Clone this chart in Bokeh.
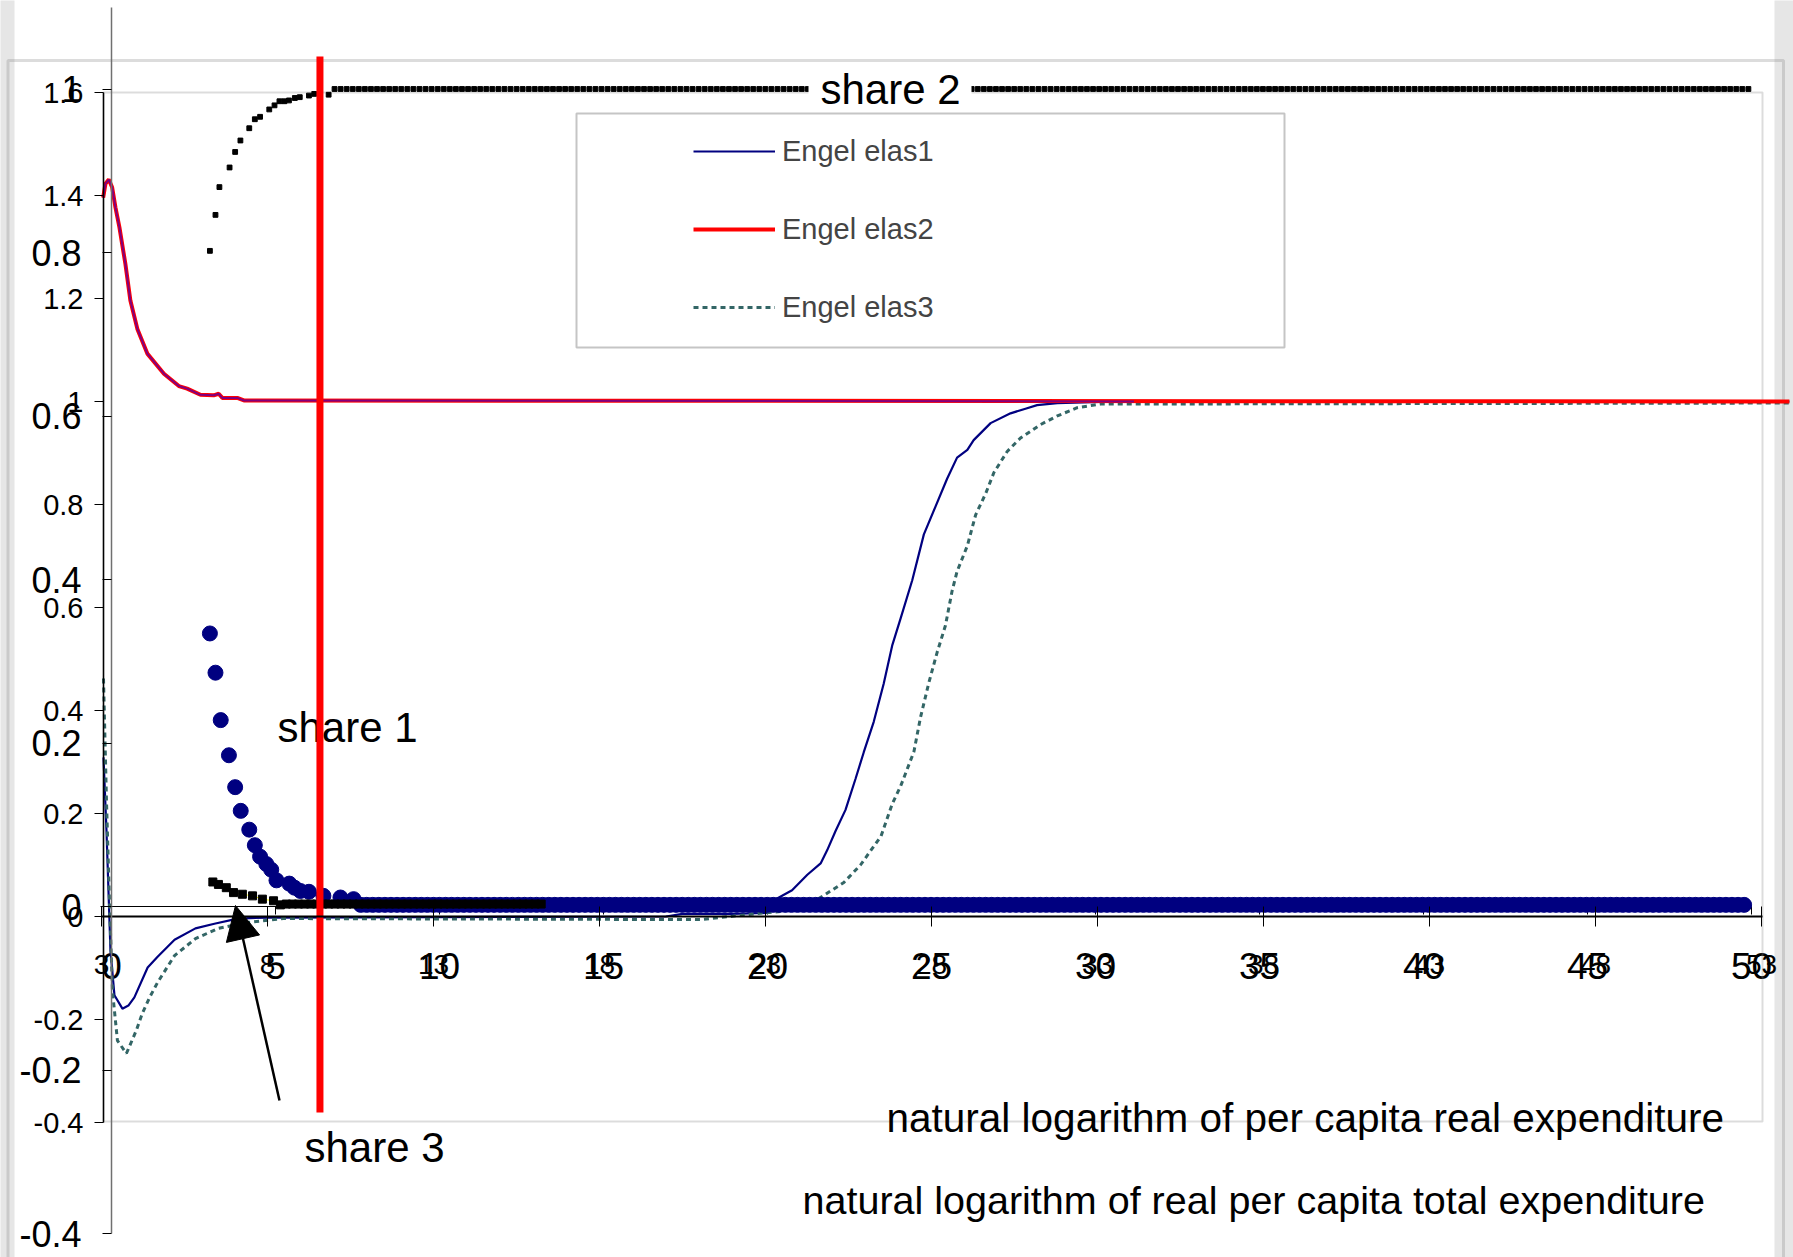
import numpy as np
from bokeh.plotting import figure
from bokeh.models import (Range1d, LinearAxis, FixedTicker, PrintfTickFormatter, BoxAnnotation,
                          Label, Legend, LegendItem, Arrow, NormalHead)
from bokeh.core.properties import value
from bokeh.embed import file_html
from bokeh.resources import INLINE

# ---------------- data: Engel elasticities (chart 1) ----------------
elas1_x = [3.06, 3.15, 3.27, 3.39, 3.63, 3.81, 3.99, 4.39, 4.69, 5.20, 5.83, 6.40, 7.10, 8.03, 20.0,
           20.5, 22.0, 23.05, 23.35, 23.80, 24.26, 24.66, 24.86, 25.11, 25.41, 25.71, 25.96, 26.26,
           26.56, 26.82, 27.07, 27.42, 27.77, 28.12, 28.47, 28.77, 29.08, 29.27, 29.78, 30.38, 30.83,
           31.18, 31.79, 33.09, 53.84]
elas1 = [0.309, 0.167, -0.066, -0.153, -0.179, -0.173, -0.157, -0.099, -0.078, -0.045, -0.023,
         -0.014, -0.004, -0.002, 0.000, 0.005, 0.005, 0.007, 0.035, 0.051, 0.081, 0.103, 0.129,
         0.166, 0.207, 0.267, 0.319, 0.378, 0.452, 0.527, 0.579, 0.653, 0.742, 0.796, 0.850, 0.891,
         0.906, 0.925, 0.958, 0.977, 0.986, 0.993, 0.997, 0.999, 1.000]

elas2_x = [3.05, 3.12, 3.22, 3.32, 3.42, 3.54, 3.72, 3.87, 4.08, 4.38, 4.88, 5.33, 5.58, 5.98,
           6.38, 6.53, 6.64, 7.09, 7.29, 53.84]
elas2 = [1.396, 1.423, 1.431, 1.416, 1.377, 1.338, 1.267, 1.196, 1.141, 1.093, 1.054, 1.030,
         1.025, 1.013, 1.012, 1.015, 1.007, 1.007, 1.002, 1.000]
elas2_overlay_end = 34.1   # purple copy of Engel elas2 visible up to here

elas3_x = [3.06, 3.15, 3.24, 3.33, 3.48, 3.75, 4.05, 4.23, 4.45, 4.69, 5.20, 5.83, 6.52, 7.34,
           8.48, 21.04, 22.95, 23.55, 24.05, 24.56, 25.36, 25.86, 26.48, 26.82, 27.07, 27.47,
           27.67, 27.92, 28.17, 28.42, 28.62, 28.77, 29.08, 29.33, 29.63, 29.88, 30.28, 30.68,
           31.28, 31.79, 32.39, 33.09, 53.84]
elas3 = [0.462, 0.225, 0.031, -0.144, -0.241, -0.266, -0.221, -0.188, -0.157, -0.128, -0.076,
         -0.043, -0.023, -0.012, -0.004, -0.006, 0.007, 0.010, 0.021, 0.033, 0.066, 0.100, 0.156,
         0.219, 0.253, 0.320, 0.387, 0.454, 0.513, 0.565, 0.632, 0.670, 0.720, 0.780, 0.821,
         0.862, 0.903, 0.929, 0.955, 0.972, 0.988, 0.995, 0.997]

cutoff_x = 9.58   # red vertical marker (chart-1 x units)

# ---------------- data: budget shares (chart 2) ----------------
obs_step = 0.185  # spacing of the plotted observations on the plateau
share1_x = [3.00, 3.17, 3.33, 3.58, 3.77, 3.94, 4.20, 4.37, 4.53, 4.72, 4.87, 5.03, 5.42, 5.58,
            5.76, 6.02, 6.46, 6.98, 7.38, 7.60]
share1 = [0.334, 0.286, 0.228, 0.185, 0.146, 0.117, 0.094, 0.075, 0.061, 0.052, 0.045, 0.032,
          0.028, 0.023, 0.019, 0.018, 0.013, 0.011, 0.009, 0.002]
share1_plateau = (7.78, 49.90, 0.002)

share2_x = [3.00, 3.17, 3.29, 3.60, 3.77, 3.93, 4.20, 4.37, 4.53, 4.81, 4.97, 5.12, 5.27, 5.41,
            5.59, 5.74, 6.02, 6.18, 6.62]
share2 = [0.802, 0.846, 0.880, 0.904, 0.923, 0.937, 0.952, 0.963, 0.966, 0.975, 0.980, 0.985,
          0.985, 0.986, 0.989, 0.990, 0.992, 0.994, 0.993]
share2_plateau = (6.80, 49.95, 1.000)

share3_x = [3.09, 3.26, 3.50, 3.72, 3.99, 4.30, 4.60, 4.94, 5.15]
share3 = [0.030, 0.027, 0.023, 0.017, 0.015, 0.013, 0.009, 0.007, 0.002]
share3_plateau = (5.33, 13.20, 0.003)

# ---------------- tick labels ----------------
elas_y_ticks = [-0.4, -0.2, 0, 0.2, 0.4, 0.6, 0.8, 1, 1.2, 1.4, 1.6]
share_y_ticks = [-0.4, -0.2, 0, 0.2, 0.4, 0.6, 0.8, 1]
elas_x_ticks = [3, 8, 13, 18, 23, 28, 33, 38, 43, 48, 53]
share_x_ticks = [0, 5, 10, 15, 20, 25, 30, 35, 40, 45, 50]


def with_plateau(xs, ys, plateau):
    x0, x1, v = plateau
    tx = list(np.round(np.arange(x0, x1 + 1e-9, obs_step), 3))
    return list(xs) + tx, list(ys) + [v] * len(tx)


s1x, s1y = with_plateau(share1_x, share1, share1_plateau)
s2x, s2y = with_plateau(share2_x, share2, share2_plateau)
s3x, s3y = with_plateau(share3_x, share3, share3_plateau)

# ---------------- layout helpers (page pixel -> data units) ----------------
W, H = 1793, 1257
TXT_DY = 18   # baseline compensation for text glyphs


def cx(px):  # chart-1 x
    return 3 + (px - 101) / 33.2


def cy(py):  # chart-1 y
    return (916 - py) / 515.0


def ux(px):  # chart-2 x
    return (px - 111) / 32.8


def sy(py):  # chart-2 y
    return (906 - py) / 817.5


FONT = "Liberation Sans"

p = figure(width=W, height=H, x_range=Range1d(cx(0), cx(W)), y_range=Range1d(cy(H), cy(0)),
           x_axis_location=None, y_axis_location=None, toolbar_location=None,
           output_backend="svg", min_border=0, outline_line_color=None)
p.extra_x_ranges = {"u": Range1d(ux(0), ux(W))}
p.extra_y_ranges = {"s": Range1d(sy(H), sy(0))}
p.xgrid.visible = False
p.ygrid.visible = False

# ---- frame decorations ----
p.add_layout(BoxAnnotation(left=cx(-5), right=cx(14), bottom=cy(1300), top=cy(-10),
                           fill_color="#e6e6e6", fill_alpha=1, line_alpha=0, level="underlay"))
p.add_layout(BoxAnnotation(left=cx(1774), right=cx(1800), bottom=cy(1300), top=cy(-10),
                           fill_color="#e6e6e6", fill_alpha=1, line_alpha=0, level="underlay"))
p.add_layout(BoxAnnotation(left=cx(7.5), right=cx(1783), bottom=cy(1300), top=cy(60),
                           fill_alpha=0, line_color="#8a8a8a", line_width=3, level="underlay"))
p.add_layout(BoxAnnotation(left=cx(103), right=cx(1762), bottom=cy(1121), top=cy(92),
                           fill_alpha=0, line_color="#8a8a8a", line_width=2, level="underlay"))

# ---- axes ----
fmt = "%g"
ax_ey = LinearAxis(ticker=FixedTicker(ticks=elas_y_ticks), formatter=PrintfTickFormatter(format=fmt),
                   fixed_location=cx(103), bounds=(-0.4001, 1.6001))
ax_sy = LinearAxis(ticker=FixedTicker(ticks=share_y_ticks), formatter=PrintfTickFormatter(format=fmt),
                   fixed_location=0, bounds=(-0.4001, 1.1), x_range_name="u", y_range_name="s")
ax_ex = LinearAxis(ticker=FixedTicker(ticks=elas_x_ticks), formatter=PrintfTickFormatter(format=fmt),
                   fixed_location=0, bounds=(2.999, cx(1762)))
ax_sx = LinearAxis(ticker=FixedTicker(ticks=share_x_ticks), formatter=PrintfTickFormatter(format=fmt),
                   fixed_location=0, bounds=(ux(100), 50.001), x_range_name="u", y_range_name="s")
for ax in (ax_ey, ax_sy, ax_ex, ax_sx):
    ax.minor_tick_line_color = None
    ax.major_tick_line_color = "black"
    ax.major_label_text_color = "black"
    ax.major_label_text_font = FONT
ax_ey.axis_line_color = "black"; ax_ey.axis_line_width = 1.5
ax_ey.major_tick_out = 9; ax_ey.major_tick_in = 0; ax_ey.major_label_standoff = 11
ax_ey.major_label_text_font_size = "29px"
ax_sy.axis_line_color = "#707070"; ax_sy.axis_line_width = 1.5
ax_sy.major_tick_out = 9; ax_sy.major_tick_in = 0; ax_sy.major_label_standoff = 21
ax_sy.major_label_text_font_size = "36px"
ax_ex.axis_line_color = "black"; ax_ex.axis_line_width = 2
ax_ex.major_tick_out = 10; ax_ex.major_tick_in = 10; ax_ex.major_label_standoff = 28
ax_ex.major_label_text_font_size = "28px"
ax_sx.axis_line_color = "black"; ax_sx.axis_line_width = 1
ax_sx.major_tick_out = 8; ax_sx.major_tick_in = 0; ax_sx.major_label_standoff = 38
ax_sx.major_label_text_font_size = "37px"
ax_sx.level = "underlay"
p.add_layout(ax_ey, "left")
p.add_layout(ax_sy, "left")
p.add_layout(ax_ex, "below")
p.add_layout(ax_sx, "below")

# ---- elasticity lines ----
r1 = p.line(elas1_x, elas1, line_color="#000080", line_width=2.2)
r3 = p.line(elas3_x, elas3, line_color="#336666", line_width=3, line_dash="5 4")
r2 = p.line(elas2_x, elas2, line_color="#ff0000", line_width=4)
p.line(elas2_x[:-1] + [elas2_overlay_end], elas2[:-1] + [elas2[-1]],
       line_color="#800080", line_width=2)

# ---- shares ----
p.scatter(s1x, s1y, marker="circle", size=15, fill_color="#000080", line_color="#000080",
          x_range_name="u", y_range_name="s")
p.line(s3x, s3y, line_color="#ffff00", line_width=1, x_range_name="u", y_range_name="s")
p.scatter(s3x, s3y, marker="square", size=8, fill_color="black", line_color="black",
          x_range_name="u", y_range_name="s")
p.scatter(s2x, s2y, marker="square", size=4.8, fill_color="black", line_color="black",
          x_range_name="u", y_range_name="s")

# ---- texts ----
p.text(x=[cx(277)], y=[cy(745 - TXT_DY)], text=["share 1"], text_font=value(FONT),
       text_font_size="42px", text_baseline="alphabetic", text_align="left", text_color="black")
p.text(x=[cx(304)], y=[cy(1165 - TXT_DY)], text=["share 3"], text_font=value(FONT),
       text_font_size="42px", text_baseline="alphabetic", text_align="left", text_color="black")
p.text(x=[cx(886)], y=[cy(1135 - TXT_DY)], text=["natural logarithm of per capita real expenditure"],
       text_font=value(FONT), text_font_size="40.5px", text_baseline="alphabetic", text_align="left",
       text_color="black")
p.text(x=[cx(802)], y=[cy(1217 - TXT_DY)],
       text=["natural logarithm of real per capita total expenditure"],
       text_font=value(FONT), text_font_size="39.5px", text_baseline="alphabetic", text_align="left",
       text_color="black")

# red cut-off line
p.segment(x0=[cutoff_x], y0=[cy(56)], x1=[cutoff_x], y1=[cy(1112)], line_color="#ff0000", line_width=7)

# arrow to share 3
p.add_layout(Arrow(end=NormalHead(size=34, fill_color="black", line_color="black"),
                   x_start=cx(279), y_start=cy(1100), x_end=cx(235), y_end=cy(905),
                   line_color="black", line_width=2.5))

# share 2 label on white patch
p.add_layout(BoxAnnotation(left=cx(808), right=cx(971), bottom=cy(111), top=cy(63),
                           fill_color="white", fill_alpha=1, line_alpha=0))
p.add_layout(Label(x=cx(820), y=cy(107 - TXT_DY), text="share 2", text_font=FONT,
                   text_font_size="42px", text_baseline="alphabetic", text_color="black"))

# legend box + legend
p.add_layout(BoxAnnotation(left=cx(576), right=cx(1284), bottom=cy(347), top=cy(113),
                           fill_color="white", fill_alpha=0, line_color="#404040", line_width=2))
legend = Legend(items=[LegendItem(label="Engel elas1", renderers=[r1]),
                       LegendItem(label="Engel elas2", renderers=[r2]),
                       LegendItem(label="Engel elas3", renderers=[r3])],
                location=(693, 930), orientation="vertical", padding=0, margin=0, spacing=38,
                glyph_width=82, glyph_height=40, label_height=40, label_standoff=7,
                label_text_font=FONT, label_text_font_size="29px",
                border_line_alpha=0, background_fill_alpha=0)
p.add_layout(legend)

open("out.html", "w").write(file_html(p, INLINE))
